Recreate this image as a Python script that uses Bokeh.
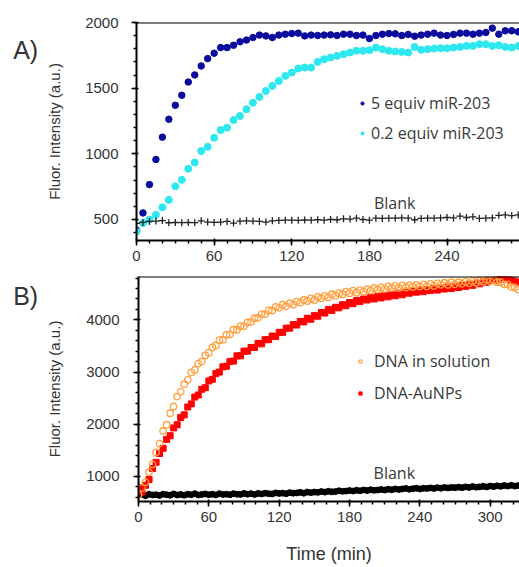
from bokeh.plotting import figure
from bokeh.models import (SingleIntervalTicker, Range1d, Legend, LegendItem, Label, Span)
from bokeh.layouts import column, row
from bokeh.core.properties import value
from bokeh.embed import file_html
from bokeh.resources import INLINE

# ---------------- Panel A data (every 5 min, 0..295) ----------------
time_a = list(range(0, 300, 5))
equiv5 = [418, 550, 766, 957, 1127, 1263, 1370, 1446, 1547, 1601,
          1669, 1725, 1766, 1809, 1809, 1827, 1853, 1866, 1886, 1904,
          1898, 1886, 1904, 1911, 1916, 1919, 1898, 1904, 1901, 1904,
          1906, 1901, 1911, 1911, 1901, 1904, 1878, 1901, 1911, 1916,
          1914, 1901, 1909, 1896, 1904, 1911, 1919, 1904, 1901, 1909,
          1919, 1919, 1911, 1919, 1924, 1957, 1911, 1937, 1937, 1929]
equiv02 = [408, 473, 499, 537, 593, 649, 753, 802, 886, 934,
           1021, 1053, 1122, 1181, 1199, 1257, 1288, 1339, 1389, 1433,
           1479, 1517, 1555, 1593, 1619, 1649, 1657, 1657, 1700, 1720,
           1733, 1746, 1759, 1771, 1784, 1784, 1789, 1809, 1797, 1784,
           1779, 1776, 1771, 1814, 1792, 1797, 1802, 1804, 1804, 1809,
           1814, 1822, 1822, 1835, 1835, 1822, 1827, 1814, 1809, 1822]
blank_a = [470, 478, 485, 488, 492, 475, 477, 476, 477, 476,
           490, 480, 478, 480, 485, 473, 487, 490, 488, 485,
           480, 490, 493, 495, 495, 494, 496, 495, 498, 495,
           500, 498, 505, 503, 510, 500, 495, 510, 508, 510,
           510, 512, 510, 498, 508, 510, 510, 512, 515, 512,
           525, 515, 520, 508, 510, 512, 532, 535, 530, 535]

# ---------------- Panel B data (every 3 min, 0..324) ----------------
time_b = list(range(0, 325, 3))
dna_solution = [650, 780, 890, 1080, 1230, 1460, 1630, 1870, 1990, 2210,
                2340, 2530, 2620, 2770, 2850, 2990, 3040, 3160, 3200, 3320,
                3370, 3470, 3510, 3610, 3620, 3710, 3720, 3810, 3810, 3880,
                3880, 3950, 3960, 4030, 4040, 4110, 4110, 4180, 4180, 4250,
                4230, 4290, 4260, 4320, 4290, 4350, 4330, 4380, 4360, 4410,
                4380, 4440, 4410, 4460, 4430, 4490, 4460, 4510, 4490, 4540,
                4510, 4560, 4520, 4570, 4540, 4590, 4560, 4610, 4580, 4620,
                4590, 4640, 4610, 4650, 4610, 4660, 4620, 4660, 4630, 4670,
                4640, 4680, 4640, 4690, 4650, 4700, 4670, 4710, 4670, 4720,
                4680, 4720, 4690, 4730, 4700, 4740, 4710, 4750, 4730, 4770,
                4740, 4760, 4720, 4720, 4680, 4680, 4630, 4620, 4580]
dna_aunps = [790, 700, 830, 940, 1150, 1270, 1440, 1540, 1710, 1780,
             1930, 1990, 2130, 2180, 2330, 2390, 2520, 2560, 2670, 2700,
             2830, 2860, 2970, 3000, 3100, 3110, 3200, 3210, 3310, 3310,
             3400, 3400, 3470, 3470, 3550, 3540, 3620, 3620, 3690, 3680,
             3760, 3760, 3840, 3840, 3910, 3900, 3970, 3960, 4030, 4010,
             4080, 4070, 4140, 4130, 4200, 4180, 4240, 4230, 4290, 4270,
             4330, 4310, 4370, 4350, 4400, 4380, 4430, 4400, 4450, 4420,
             4470, 4440, 4480, 4460, 4510, 4480, 4530, 4510, 4550, 4530,
             4570, 4540, 4580, 4560, 4600, 4570, 4610, 4590, 4630, 4600,
             4640, 4620, 4660, 4640, 4680, 4660, 4700, 4690, 4730, 4720,
             4760, 4750, 4790, 4780, 4820, 4790, 4760, 4740, 4720]
blank_b = [640, 655, 630, 660, 645, 650, 635, 660, 650, 640,
           665, 645, 655, 640, 660, 650, 670, 645, 655, 665,
           650, 660, 645, 670, 655, 660, 650, 670, 660, 655,
           675, 660, 670, 655, 675, 665, 680, 670, 665, 685,
           675, 680, 670, 690, 680, 685, 695, 680, 700, 690,
           700, 695, 710, 700, 715, 705, 710, 725, 715, 720,
           730, 720, 735, 725, 740, 730, 745, 735, 740, 750,
           740, 755, 745, 760, 750, 760, 770, 755, 765, 775,
           760, 775, 770, 780, 770, 785, 775, 790, 780, 790,
           785, 795, 785, 800, 790, 805, 795, 800, 810, 800,
           815, 805, 820, 810, 825, 815, 830, 815, 825]

panel_letters = ["A)", "B)"]

TICK_FONT = "Liberation Sans"
TEXT_COL = "#333333"
LETTER_W = 40
BLUE = "#0a0a9c"
CYAN = "#2ee8f0"


def style_axes(p, y_interval, y_label_standoff, y_title_standoff):
    for ax in p.xaxis + p.yaxis:
        ax.axis_line_width = 2
        ax.axis_line_color = "black"
        ax.major_tick_line_width = 1.5
        ax.minor_tick_line_width = 1.5
        ax.major_tick_line_color = "black"
        ax.minor_tick_line_color = "black"
        ax.major_tick_out = 5
        ax.major_tick_in = 2
        ax.minor_tick_out = 3
        ax.minor_tick_in = 0
        ax.major_label_text_font = TICK_FONT
        ax.major_label_text_font_size = "15px"
        ax.major_label_text_color = TEXT_COL
        ax.axis_label_text_font = TICK_FONT
        ax.axis_label_text_font_style = "normal"
        ax.axis_label_text_color = TEXT_COL
    p.xaxis.ticker = SingleIntervalTicker(interval=60, num_minor_ticks=6)
    p.yaxis.ticker = SingleIntervalTicker(interval=y_interval, num_minor_ticks=5)
    p.xaxis.major_label_standoff = 5
    p.yaxis.major_label_standoff = y_label_standoff
    p.yaxis.axis_label = "Fluor. Intensity (a.u.)"
    p.yaxis.axis_label_text_font_size = "15px"
    p.yaxis.axis_label_standoff = y_title_standoff
    p.xgrid.grid_line_color = None
    p.ygrid.grid_line_color = None


def letter_fig(height, letter, baseline_y):
    # a narrow strip left of each panel, in pixel-like coordinates (y down)
    f = figure(width=LETTER_W, height=height, x_range=Range1d(0, LETTER_W),
               y_range=Range1d(height, 0), output_backend="svg", toolbar_location=None,
               x_axis_location=None, y_axis_location=None, min_border=0,
               outline_line_color=None, background_fill_color="white",
               border_fill_color="white")
    f.xgrid.grid_line_color = None
    f.ygrid.grid_line_color = None
    f.text(x=[12.7], y=[baseline_y], text=[letter], text_font=value(TICK_FONT),
           text_font_size=value("25px"), text_color="#333333",
           text_baseline="alphabetic", text_align="left")
    return f


# ---------------- Panel A ----------------
HA = 267
pA = figure(width=519 - LETTER_W, height=HA, x_range=Range1d(0, 296), y_range=Range1d(340, 2000),
            output_backend="svg", toolbar_location=None,
            min_border_left=136 - LETTER_W, min_border_right=0, min_border_top=22,
            min_border_bottom=27,
            outline_line_color=None, background_fill_color="white", border_fill_color="white")
style_axes(pA, 500, 13, 19)

# small-dot copies (hidden under the main dots) give the legend its small symbols
kA1 = pA.scatter(time_a, equiv5, marker="circle", size=4.5, color=BLUE)
kA2 = pA.scatter(time_a, equiv02, marker="circle", size=4.5, color=CYAN)
pA.scatter(time_a, equiv5, marker="circle", size=6.5, color=BLUE)
pA.scatter(time_a, equiv02, marker="circle", size=7, color=CYAN)
pA.scatter(time_a, blank_a, marker="cross", size=7, line_width=1.3, color="#222222")
pA.add_layout(Span(location=2000, dimension="width", line_color="black", line_width=2))

legA = Legend(items=[LegendItem(label="5 equiv miR-203", renderers=[kA1]),
                     LegendItem(label="0.2 equiv miR-203", renderers=[kA2])],
              location=(222, 96), orientation="vertical",
              border_line_color=None, background_fill_alpha=0,
              padding=0, margin=0, spacing=8, glyph_width=8, glyph_height=20,
              label_height=20, label_standoff=5,
              label_text_font="Open Sans", label_text_font_size="16px",
              label_text_color="#3a3a3a")
pA.add_layout(legA)
pA.add_layout(Label(x=183.5, y=626, text="Blank", text_font="Open Sans",
                    text_font_size="16px", text_color="#3a3a3a", text_baseline="alphabetic"))

# ---------------- Panel B ----------------
HB = 300
pB = figure(width=519 - LETTER_W, height=HB, x_range=Range1d(0, 325), y_range=Range1d(520, 4830),
            output_backend="svg", toolbar_location=None,
            min_border_left=138 - LETTER_W, min_border_right=0, min_border_top=9,
            min_border_bottom=66,
            outline_line_color=None, background_fill_color="white", border_fill_color="white")
style_axes(pB, 1000, 14, 20)
pB.xaxis.axis_label = "Time (min)"
pB.xaxis.axis_label_text_font_size = "18px"
pB.xaxis.axis_label_standoff = 19

pB.scatter(time_b, blank_b, marker="circle", size=6, color="black")
rB2 = pB.scatter(time_b, dna_aunps, marker="square", size=6, color="#ff0000")
rB1 = pB.scatter(time_b, dna_solution, marker="circle", size=6.5, line_color="#ffa040",
                 fill_color=None, line_width=1.3)
pB.add_layout(Span(location=4830, dimension="width", line_color="black", line_width=2))

legB = Legend(items=[LegendItem(label="DNA in solution", renderers=[rB1]),
                     LegendItem(label="DNA-AuNPs", renderers=[rB2])],
              location=(218, 97), orientation="vertical",
              border_line_color=None, background_fill_alpha=0,
              padding=0, margin=0, spacing=10, glyph_width=8, glyph_height=20,
              label_height=20, label_standoff=10,
              label_text_font="Open Sans", label_text_font_size="16px",
              label_text_color="#3a3a3a")
pB.add_layout(legB)
pB.add_layout(Label(x=200.5, y=1075, text="Blank", text_font="Open Sans",
                    text_font_size="16px", text_color="#3a3a3a", text_baseline="alphabetic"))

lA = letter_fig(HA, panel_letters[0], 33.3)
lB = letter_fig(HB, panel_letters[1], 26.3)

layout = column(row(lA, pA), row(lB, pB))
open("out.html", "w").write(file_html(layout, INLINE))
